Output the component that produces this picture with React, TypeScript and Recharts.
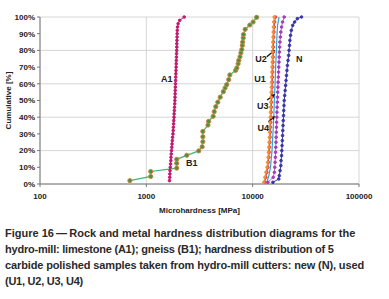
import React from 'react';
import { ComposedChart, Line, XAxis, YAxis, CartesianGrid, ReferenceDot, ReferenceLine } from 'recharts';

// Cumulative percentages and microhardness values [MPa]
const A1_Y = [2,4,6,8,10,12,14,16,18,20,22,24,26,28,30,32,34,36,38,40,42,44,46,48,50,52,54,56,58,60,62,64,66,68,70,72,74,76,78,80,82,84,86,88,90,92,94,96,98,100];
const A1_X = [1650,1660,1665,1670,1680,1690,1700,1705,1715,1725,1735,1745,1755,1765,1780,1790,1795,1805,1810,1820,1825,1835,1840,1850,1855,1860,1865,1870,1875,1880,1885,1890,1895,1900,1905,1910,1915,1920,1925,1930,1935,1935,1940,1945,1950,1955,1965,1990,2060,2270];

const B1_Y = [2,4.5,7.5,9.5,12.4,14.8,17.2,19.8,22.3,25.3,28.3,31.5,35.3,37.5,40.5,43.3,46.3,49,52,55.3,57.5,59.5,62.5,65.3,68,69.5,72,74,76.2,78.5,80.5,83,85,87.5,89.5,92.6,95.2,97,99.8];
const B1_X = [700,1100,1100,1930,1930,1930,2400,3110,3350,3400,3400,3400,3800,3850,4250,4350,4500,4700,4950,5300,5500,5700,5950,6100,6900,7100,7300,7400,7600,7750,7900,8000,8050,8150,8200,8500,9400,10100,10900];

const U_Y = [1,4,7,10,13,16,19,22,25,28,31,34,37,40,43,46,49,52,55,58,61,64,67,70,73,76,79,82,85,88,91,94,97,100];
const U1_X = [13000,13300,13600,13900,14050,14200,14300,14400,14500,14580,14650,14720,14800,14850,14920,14980,15050,15100,15170,15230,15300,15350,15420,15470,15520,15570,15620,15680,15730,15790,15850,15950,16100,16400];
const U2_X = [12700,13000,13300,13600,13800,13950,14050,14150,14250,14330,14400,14470,14540,14600,14660,14720,14780,14840,14900,14960,15020,15080,15140,15190,15240,15290,15340,15390,15450,15510,15580,15650,15750,15900];
const U4_X = [13900,15600,16000,16150,16250,16350,16420,16500,16560,16620,16680,16740,16800,16860,16920,16980,17050,17120,17200,17280,17360,17440,17520,17600,17680,17760,17840,17940,18050,18200,18400,18700,19100,19800];

const U3_Y = [1,5,10,20,30,40,50,60,70,80,90,95,100];
const U3_X = [13600,14200,14700,15200,15500,15800,16000,16250,16450,16700,16950,17150,17700];

const N_Y = [1,3,5,8,11,14,17,20,23,26,29,32,35,38,41,44,47,50,53,56,59,62,65,68,71,74,77,80,83,86,89,92,95,97,99,100];
const N_X = [15500,17600,17800,18100,18400,18500,18700,18800,18900,19000,19100,19200,19300,19400,19500,19600,19700,19800,20000,20200,20400,20600,20800,21000,21200,21500,21800,22000,22200,22400,22700,23100,23800,24800,26300,28800];

const X_TICKS = [100, 1000, 10000, 100000];
const Y_TICKS = [0, 10, 20, 30, 40, 50, 60, 70, 80, 90, 100];

const LABELS = [
  { text: 'A1', x: 1556, y: 62.9 },
  { text: 'B1', x: 2673, y: 12.4 },
  { text: 'U2', x: 12000, y: 74.7 },
  { text: 'N', x: 27350, y: 74.7 },
  { text: 'U1', x: 11750, y: 62.9 },
  { text: 'U3', x: 12450, y: 46.7 },
  { text: 'U4', x: 12600, y: 33.4 },
];
const ARROWS = [
  { x1: 13580, y1: 76.2, x2: 16250, y2: 80.2 },
  { x1: 13700, y1: 50.3, x2: 16250, y2: 53.9 },
  { x1: 14050, y1: 37.3, x2: 16250, y2: 40.7 },
];

const CAPTION = [
  'Figure 16\u2009\u2014\u2009Rock and metal hardness distribution diagrams for the',
  'hydro-mill: limestone (A1); gneiss (B1); hardness distribution of 5',
  'carbide polished samples taken from hydro-mill cutters: new (N), used',
  '(U1, U2, U3, U4)',
];
const CAPTION_SPACING = [0, -0.22, -0.13, -0.25];

const zip = (xs: number[], ys: number[]) => xs.map((x, i) => ({ x, y: ys[i] }));

const a1 = zip(A1_X, A1_Y);
const b1 = zip(B1_X, B1_Y);
const u1 = zip(U1_X, U_Y);
const u2 = zip(U2_X, U_Y);
const u3 = zip(U3_X, U3_Y);
const u4 = zip(U4_X, U_Y);
const n = zip(N_X, N_Y);

const FONT = '"Liberation Sans", Arial, Helvetica, sans-serif';
const TXT = '#222';

const ArrowShape = (props: any) => {
  const { x1, y1, x2, y2 } = props;
  if ([x1, y1, x2, y2].some((v) => typeof v !== 'number' || isNaN(v))) return null;
  const ang = Math.atan2(y2 - y1, x2 - x1);
  const L = 4;
  const W = 2.2;
  const bx = x2 - L * Math.cos(ang);
  const by = y2 - L * Math.sin(ang);
  const px = -Math.sin(ang) * W;
  const py = Math.cos(ang) * W;
  return (
    <g>
      <line x1={x1} y1={y1} x2={bx} y2={by} stroke="#111" strokeWidth={1.3} />
      <polygon points={`${x2},${y2} ${bx + px},${by + py} ${bx - px},${by - py}`} fill="#111" />
    </g>
  );
};

export default function App() {
  return (
    <div style={{ position: 'absolute', left: 0, top: 0, width: 389, height: 299, background: '#fff', overflow: 'hidden' }}>
      <ComposedChart width={389} height={215} margin={{ top: 17, right: 30, bottom: 0, left: 0 }} style={{ fontFamily: FONT }}>
        <CartesianGrid stroke="#cccccc" strokeWidth={0.8} />
        <XAxis
          dataKey="x"
          type="number"
          scale="log"
          domain={[100, 100000]}
          ticks={X_TICKS}
          allowDataOverflow
          height={31}
          tickSize={3}
          tickMargin={6}
          stroke="#777"
          tick={{ fontSize: 8, fontWeight: 700, fill: TXT }}
          label={{
            content: (p: any) => {
              const vb = p.viewBox || {};
              return (
                <text x={vb.x + vb.width / 2} y={212.5} textAnchor="middle" fontSize={8} fontWeight={700} fill={TXT}>
                  Microhardness [MPa]
                </text>
              );
            },
          }}
        />
        <YAxis
          type="number"
          domain={[0, 100]}
          ticks={Y_TICKS}
          width={40}
          tickSize={3}
          tickMargin={2}
          stroke="#777"
          tickFormatter={(v: number) => `${v}%`}
          tick={{ fontSize: 8, fontWeight: 700, fill: TXT }}
          label={{
            content: (p: any) => {
              const vb = p.viewBox || {};
              const cy = vb.y + vb.height / 2;
              return (
                <text x={9} y={cy} transform={`rotate(-90 9 ${cy})`} textAnchor="middle" dominantBaseline="middle" fontSize={8} fontWeight={700} fill={TXT}>
                  Cumulative [%]
                </text>
              );
            },
          }}
        />
        <Line data={a1} dataKey="y" stroke="#c21a6e" strokeWidth={1} dot={{ r: 1.3, fill: '#c21a6e', stroke: '#c21a6e' }} isAnimationActive={false} />
        <Line data={b1} dataKey="y" stroke="#3dbb7c" strokeWidth={1.3} dot={{ r: 2.1, fill: '#4a8f45', stroke: '#c9873c', strokeWidth: 1 }} isAnimationActive={false} />
        <Line data={n} dataKey="y" stroke="#3b36a8" strokeWidth={1} dot={{ r: 1.3, fill: '#3b36a8', stroke: '#3b36a8' }} isAnimationActive={false} />
        <Line data={u4} dataKey="y" stroke="#c060c8" strokeWidth={1} dot={{ r: 1.3, fill: '#a63cbc', stroke: '#a63cbc' }} isAnimationActive={false} />
        <Line data={u3} dataKey="y" stroke="#29a3d8" strokeWidth={1.2} dot={false} isAnimationActive={false} />
        <Line data={u1} dataKey="y" stroke="#e8403a" strokeWidth={1} dot={{ r: 1.3, fill: '#e8403a', stroke: '#e8403a' }} isAnimationActive={false} />
        <Line data={u2} dataKey="y" stroke="#f0903a" strokeWidth={1} dot={{ r: 1.2, fill: '#f0903a', stroke: '#f0903a' }} isAnimationActive={false} />
        {ARROWS.map((a, i) => (
          <ReferenceLine key={`ar${i}`} segment={[{ x: a.x1, y: a.y1 }, { x: a.x2, y: a.y2 }]} shape={ArrowShape} />
        ))}
        {LABELS.map((l) => (
          <ReferenceDot
            key={l.text}
            x={l.x}
            y={l.y}
            r={0}
            fill="none"
            stroke="none"
            label={{ value: l.text, position: 'center', fontSize: 9, fontWeight: 700, fill: TXT }}
          />
        ))}
      </ComposedChart>
      <div
        style={{
          position: 'absolute',
          left: 5,
          top: 225,
          fontFamily: FONT,
          fontSize: 11,
          fontWeight: 700,
          lineHeight: '16.1px',
          color: '#2a2a2a',
          whiteSpace: 'nowrap',
        }}
      >
        {CAPTION.map((line, i) => (
          <div key={i} style={{ letterSpacing: `${CAPTION_SPACING[i]}px` }}>{line}</div>
        ))}
      </div>
    </div>
  );
}
